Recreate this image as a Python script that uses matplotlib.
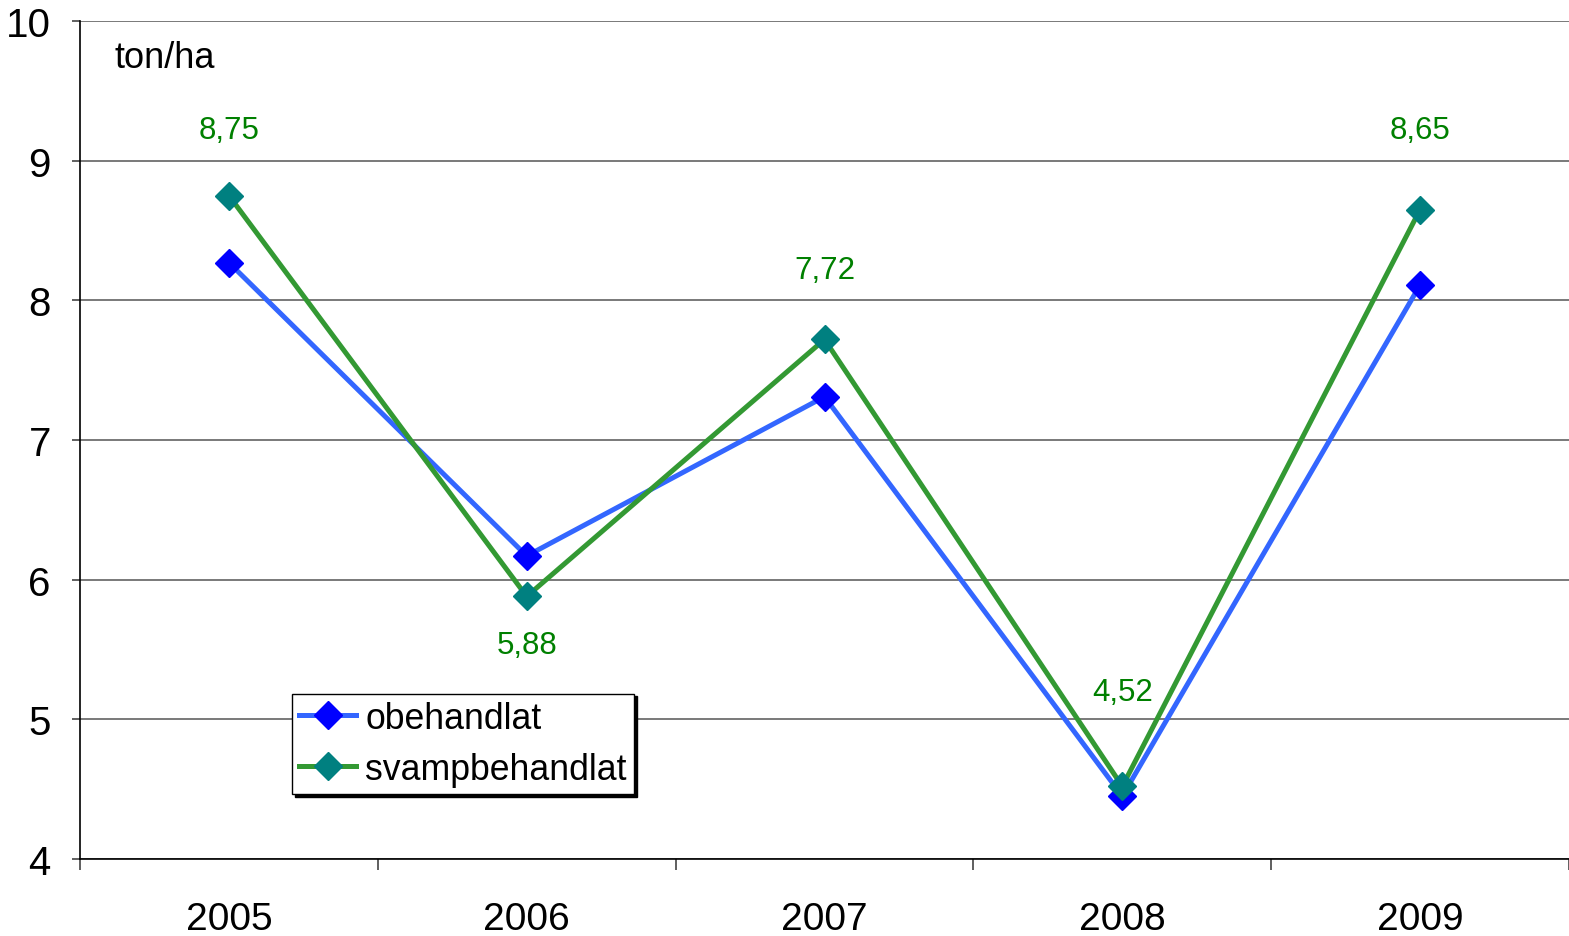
import numpy as np
from matplotlib import pyplot as plt

years = ["2005", "2006", "2007", "2008", "2009"]
obehandlat = [8.27, 6.17, 7.31, 4.45, 8.11]
svampbehandlat = [8.75, 5.88, 7.72, 4.52, 8.65]
labels = ["8,75", "5,88", "7,72", "4,52", "8,65"]
label_offsets = [47, -35, 50, 68, 57]  # points, up (+) or down (-)


def main():
	plt.rcParams['font.family'] = ['Liberation Sans', 'DejaVu Sans']

	fig = plt.figure(figsize=(15.69, 9.37), dpi=100)
	ax = fig.add_axes([0.051, 0.0822, 0.949, 0.8943])

	x = np.arange(len(years))

	ax.plot(x, obehandlat, color='#3366ff', lw=3.6, marker='D', ms=14,
		mfc='#0000ff', mec='#0000ff', label='obehandlat', zorder=3)
	ax.plot(x, svampbehandlat, color='#339933', lw=3.6, marker='D', ms=14,
		mfc='#008080', mec='#008080', label='svampbehandlat', zorder=4)

	for i in range(len(x)):
		ax.annotate(labels[i], (x[i], svampbehandlat[i]), xytext=(0, label_offsets[i]),
			textcoords='offset points', ha='center', va='center',
			color='#008000', fontsize=22.5)

	ax.set_xlim(-0.5, len(years) - 0.5)
	ax.set_ylim(4, 10)
	ax.set_yticks(np.arange(4, 11, 1))
	ax.yaxis.grid(True, color='#555555', lw=1.1)
	ax.set_axisbelow(True)

	ax.set_xticks(np.arange(-0.5, len(years), 1))
	ax.set_xticklabels([])
	ax.set_xticks(x, minor=True)
	ax.set_xticklabels(years, minor=True)
	ax.tick_params(axis='x', which='major', direction='out', length=8, width=1.2, color='#444444')
	ax.tick_params(axis='x', which='minor', length=0, pad=30, labelsize=28)
	ax.tick_params(axis='y', direction='out', length=6, width=1.2, pad=15, labelsize=29, color='#444444')

	for s in ['top', 'right']:
		ax.spines[s].set_visible(False)
	ax.spines['left'].set_linewidth(1.2)
	ax.spines['bottom'].set_linewidth(1.2)

	ax.text(0.023, 0.956, "ton/ha", transform=ax.transAxes, fontsize=26, va='center')

	leg = ax.legend(loc='lower left', bbox_to_anchor=(0.1424, 0.0776), borderaxespad=0,
		fontsize=25.7, fancybox=False, edgecolor='black', framealpha=1,
		shadow={'color': 'black', 'alpha': 1}, handlelength=1.6, handletextpad=0.25,
		labelspacing=0.45, borderpad=0.2)
	leg.get_frame().set_linewidth(1)

	plt.savefig("out.png", dpi=100)


if __name__ == "__main__":
	main()
